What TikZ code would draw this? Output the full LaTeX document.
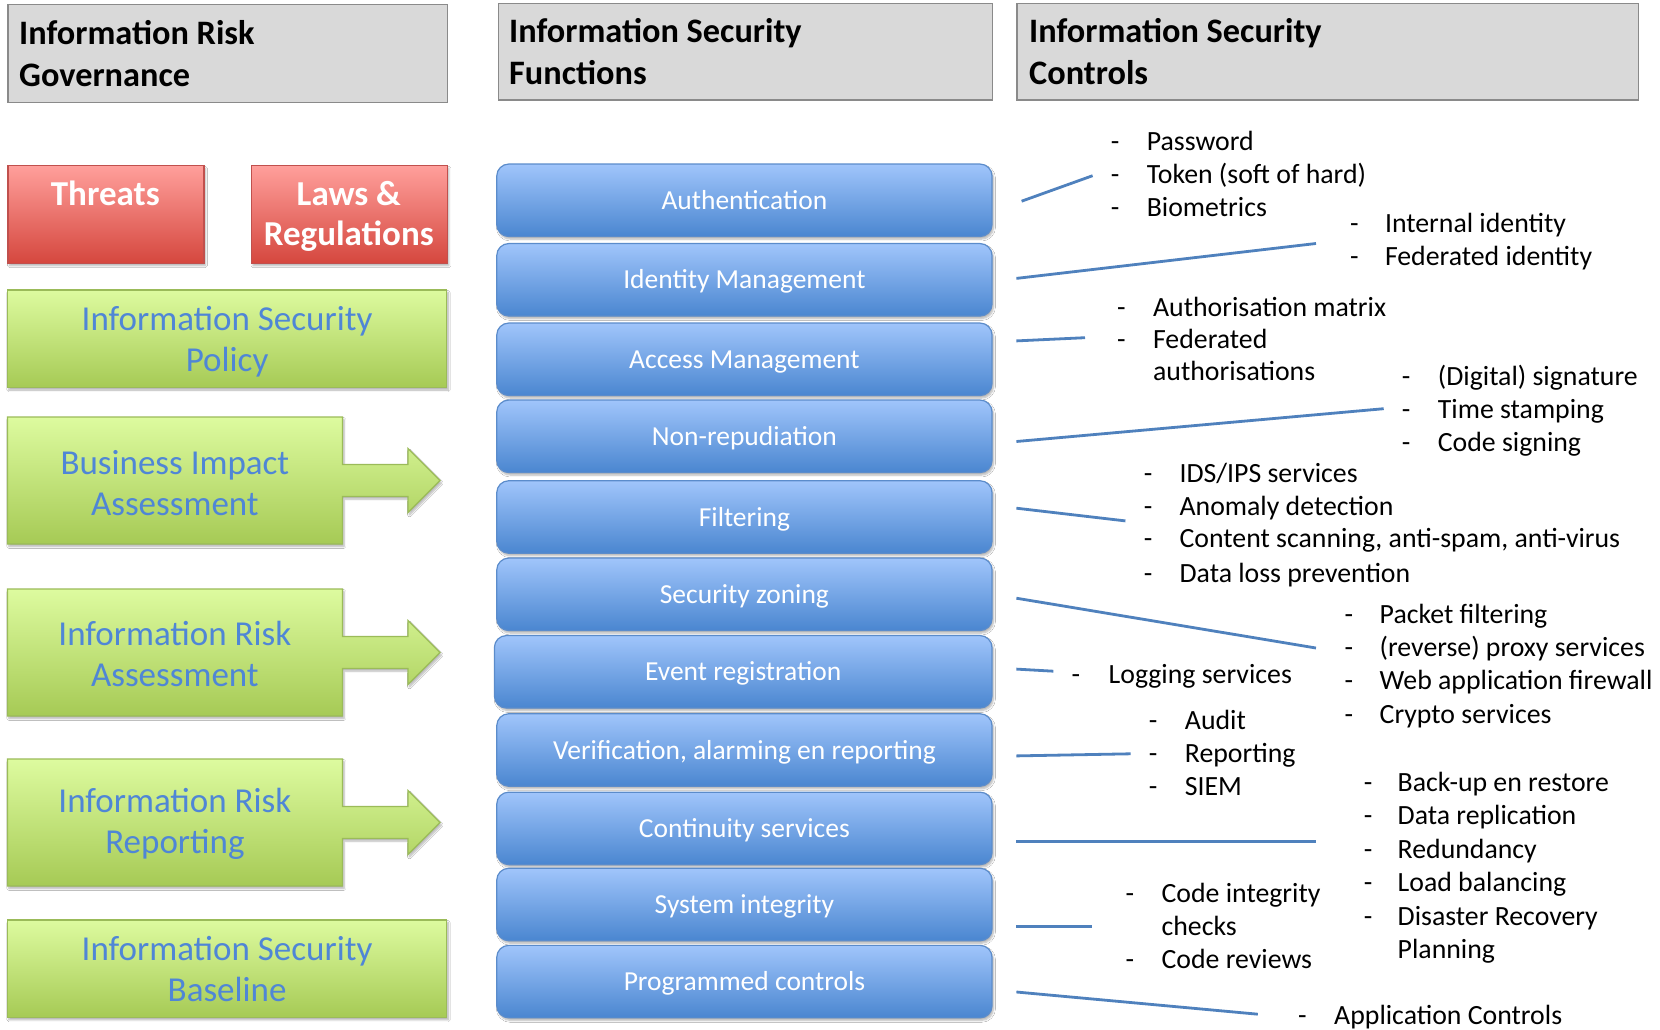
\documentclass[tikz,border=0pt]{standalone}
\usepackage{fontspec}
\setmainfont{Carlito}
\usetikzlibrary{shadows.blur}
\definecolor{hdrfill}{HTML}{D9D9D9}
\definecolor{hdrline}{HTML}{8A8A8A}
\definecolor{redtop}{HTML}{FF9F9B}
\definecolor{redbot}{HTML}{D5473E}
\definecolor{redline}{HTML}{C0504D}
\definecolor{grntop}{HTML}{DDFB9F}
\definecolor{grnbot}{HTML}{A6CA55}
\definecolor{grnline}{HTML}{9BBB59}
\definecolor{blutop}{HTML}{A0C5FB}
\definecolor{blubot}{HTML}{4A86D0}
\definecolor{bluline}{HTML}{5B8CCB}
\definecolor{grntext}{HTML}{4F86D6}
\definecolor{connblue}{HTML}{4F81BD}
\tikzset{
  softshadow/.style={blur shadow={shadow xshift=1.5pt, shadow yshift=-2.5pt, shadow blur steps=6, shadow opacity=30}},
  hdrbox/.style={draw=hdrline, fill=hdrfill, line width=1.3, rectangle, inner sep=0, anchor=north west},
  hdrtxt/.style={inner sep=0, anchor=north west, align=left, font=\fontsize{34.3}{42}\selectfont\bfseries},
  redbox/.style={top color=redtop, bottom color=redbot, draw=redline, line width=1.2, rectangle, inner sep=0, anchor=north west, softshadow},
  redtxt/.style={inner sep=0, anchor=north, align=center, text=white, font=\fontsize{35}{40}\selectfont\bfseries},
  grnbox/.style={top color=grntop, bottom color=grnbot, draw=grnline, line width=1.2, rectangle, inner sep=0, align=center, text=grntext, font=\fontsize{35}{41}\selectfont, softshadow},
  grnshape/.style={top color=grntop, bottom color=grnbot, draw=grnline, line width=1.2, line join=miter, softshadow},
  grntxt/.style={inner sep=0, align=center, text=grntext, font=\fontsize{35}{41}\selectfont},
  blubox/.style={top color=blutop, bottom color=blubot, draw=bluline, line width=1.2, rounded corners=12, rectangle, inner sep=0, minimum width=495.3, minimum height=72.5, text=white, font=\fontsize{27.5}{33}\selectfont, text height=24, text depth=6, softshadow},
  ctltxt/.style={anchor=base west, inner sep=0, font=\fontsize{27.8}{33}\selectfont},
  conn/.style={draw=connblue, line width=2.8},
}
\newcommand\ctlrow[5]{\node[ctltxt] (#1d) at (#2,{#4+2}) {-};\node[ctltxt] (#1) at (#3,{#4+2}) {#5};}
\newcommand\ctlmore[4]{\node[ctltxt] (#1) at (#2,{#3+2}) {#4};}
\newcommand\grnarrow[2]{\path[grnshape] (7.4,#1) -- (342.5,#1) -- (342.5,{(#1+#2)/2-16}) -- (408,{(#1+#2)/2-16}) -- (408,{(#1+#2)/2-32}) -- (440,{(#1+#2)/2}) -- (408,{(#1+#2)/2+32}) -- (408,{(#1+#2)/2+16}) -- (342.5,{(#1+#2)/2+16}) -- (342.5,#2) -- (7.4,#2) -- cycle;}
\begin{document}
\begin{tikzpicture}[x=1pt,y=-1pt]
\useasboundingbox[fill=white] (0,0) rectangle (1660,1030);
% headers
\node[hdrbox, minimum width=439.4, minimum height=97.4] (h1) at (7.4,4.2) {};
\node[hdrbox, minimum width=494.4, minimum height=96.3] (h2) at (497.6,3.2) {};
\node[hdrbox, minimum width=621.4, minimum height=96.3] (h3) at (1016.4,3.2) {};
\node[hdrtxt] (h1t) at (19,15) {\strut Information Risk\\Governance};
\node[hdrtxt] (h2t) at (509,12.6) {\strut Information Security\\Functions};
\node[hdrtxt] (h3t) at (1029,12.6) {\strut Information Security\\Controls};
% left column
\node[redbox, minimum width=195.9, minimum height=97.4] (thr) at (7.4,165.2) {};
\node[redbox, minimum width=195.9, minimum height=97.4] (law) at (250.9,165.2) {};
\node[redtxt] (thrt) at (105.3,177.7) {\strut Threats};
\node[redtxt] (lawt) at (348.8,177.7) {\strut Laws \&\\Regulations};
\node[grnbox, minimum width=439.4, minimum height=97.5] (pol) at (227.1,338.75) {};
\node[grntxt] (polt) at (227.1,341.5) {Information Security\\Policy};
\grnarrow{417}{544}
\node[grntxt] (bia) at (174.9,483) {Business Impact\\Assessment};
\grnarrow{589}{716}
\node[grntxt] (ira) at (174.9,654) {Information Risk\\Assessment};
\grnarrow{759}{886}
\node[grntxt] (irr) at (174.9,824) {Information Risk\\Reporting};
\node[grnbox, minimum width=439.4, minimum height=97.4] (base) at (227.1,968.7) {Information Security\\Baseline};
% functions
\node[blubox] (f1) at (744.4,200.3) {Authentication};
\node[blubox] (f2) at (744.4,279.8) {Identity Management};
\node[blubox] (f3) at (744.4,359.3) {Access Management};
\node[blubox] (f4) at (744.4,436.3) {Non-repudiation};
\node[blubox] (f5) at (744.4,517.0) {Filtering};
\node[blubox] (f6) at (744.4,594.3) {Security zoning};
\node[blubox, minimum width=497.6] (f7) at (743.2,671.8) {Event registration};
\node[blubox] (f8) at (744.4,750.0) {Verification, alarming en reporting};
\node[blubox] (f9) at (744.4,828.4) {Continuity services};
\node[blubox] (f10) at (744.4,904.5) {System integrity};
\node[blubox] (f11) at (744.4,981.6) {Programmed controls};
% controls text
\ctlrow{a1}{1110.6}{1146.6}{148.8}{Password}
\ctlrow{a2}{1110.6}{1146.6}{181.6}{Token (soft of hard)}
\ctlrow{a3}{1110.6}{1146.6}{214.4}{Biometrics}
\ctlrow{b1}{1349.8}{1384.8}{230.3}{Internal identity}
\ctlrow{b2}{1349.8}{1384.8}{263.1}{Federated identity}
\ctlrow{c1}{1117}{1152.9}{314}{Authorisation matrix}
\ctlrow{c2}{1117}{1152.9}{346.8}{Federated}
\ctlmore{c3}{1152.9}{378.5}{authorisations}
\ctlrow{d1}{1401.7}{1437.7}{383.8}{(Digital) signature}
\ctlrow{d2}{1401.7}{1437.7}{416.7}{Time stamping}
\ctlrow{d3}{1401.7}{1437.7}{449.5}{Code signing}
\ctlrow{e1}{1143.6}{1179.4}{480.2}{IDS/IPS services}
\ctlrow{e2}{1143.6}{1179.4}{513}{Anomaly detection}
\ctlrow{e3}{1143.6}{1179.4}{545.8}{Content scanning, anti-spam, anti-virus}
\ctlrow{e4}{1143.6}{1179.4}{580.8}{Data loss prevention}
\ctlrow{g1}{1344.5}{1379.5}{621}{Packet filtering}
\ctlrow{g2}{1344.5}{1379.5}{654.9}{(reverse) proxy services}
\ctlrow{g3}{1344.5}{1379.5}{687.7}{Web application firewall}
\ctlrow{g4}{1344.5}{1379.5}{721.6}{Crypto services}
\ctlrow{k1}{1071.4}{1108.5}{681.3}{Logging services}
\ctlrow{m1}{1148.7}{1184.7}{727.9}{Audit}
\ctlrow{m2}{1148.7}{1184.7}{760.7}{Reporting}
\ctlrow{m3}{1148.7}{1184.7}{793.5}{SIEM}
\ctlrow{n1}{1363.6}{1397.5}{789.3}{Back-up en restore}
\ctlrow{n2}{1363.6}{1397.5}{822.1}{Data replication}
\ctlrow{n3}{1363.6}{1397.5}{856}{Redundancy}
\ctlrow{n4}{1363.6}{1397.5}{889.9}{Load balancing}
\ctlrow{n5}{1363.6}{1397.5}{923.8}{Disaster Recovery}
\ctlmore{n6}{1397.5}{956.6}{Planning}
\ctlrow{p1}{1125.4}{1161.4}{900.5}{Code integrity}
\ctlmore{p2}{1161.4}{933.3}{checks}
\ctlrow{p3}{1125.4}{1161.4}{966.1}{Code reviews}
\ctlrow{q1}{1298}{1334}{1022.4}{Application Controls}
% connectors
\coordinate (s1) at (1021.6,201.2);  \coordinate (t1) at (1092.6,175.7);
\coordinate (s2) at (1016.4,278.4);  \coordinate (t2) at (1316,243.5);
\coordinate (s3) at (1016.4,340.9);  \coordinate (t3) at (1085,337.7);
\coordinate (s4) at (1016.4,441.5);  \coordinate (t4) at (1383.7,408.7);
\coordinate (s5) at (1016.4,508.2);  \coordinate (t5) at (1125.4,520.9);
\coordinate (s6) at (1016.4,598.2);  \coordinate (t6) at (1316,648);
\coordinate (s7) at (1016.4,669.1);  \coordinate (t7) at (1053.4,671.2);
\coordinate (s8) at (1016.4,755.9);  \coordinate (t8) at (1130.7,753.8);
\coordinate (s9) at (1016.4,841.7);  \coordinate (t9) at (1316,841.7);
\coordinate (s10) at (1016.4,926.4); \coordinate (t10) at (1091.5,926.4);
\coordinate (s11) at (1016.4,992);   \coordinate (t11) at (1257.8,1014.2);
\foreach \i in {1,...,11} {\draw[conn] (s\i) -- (t\i);}
\end{tikzpicture}
\end{document}
